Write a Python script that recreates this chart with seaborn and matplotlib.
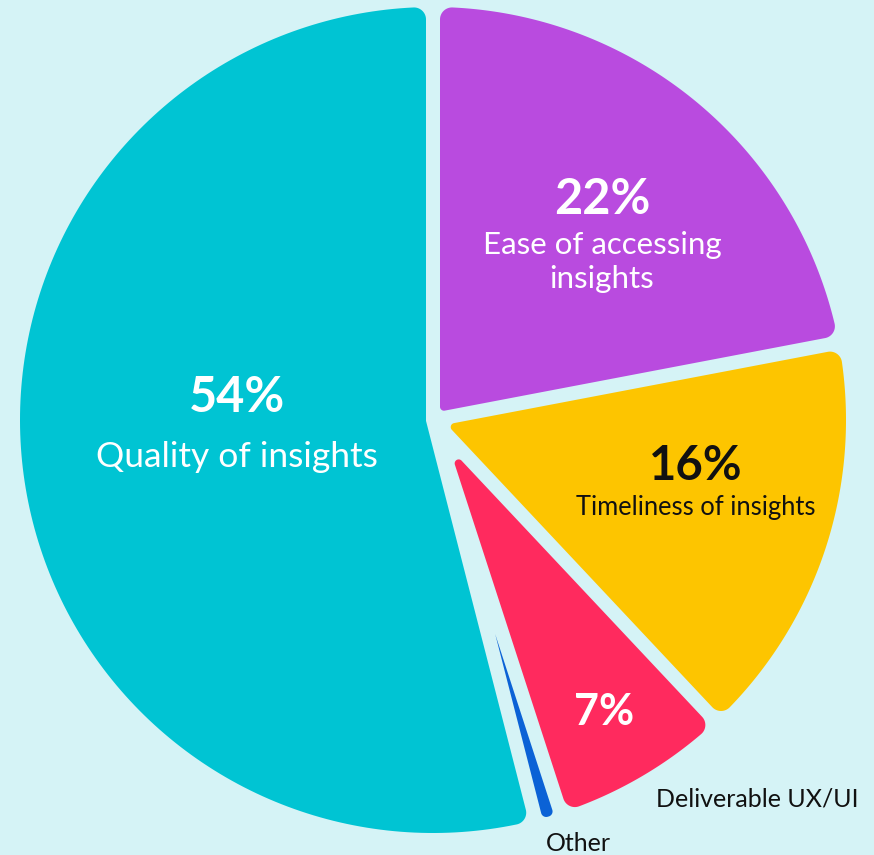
import numpy as np
import matplotlib
matplotlib.use("Agg")
import matplotlib.pyplot as plt
from matplotlib.patches import Polygon
import seaborn as sns

# Data (clockwise from 12 o'clock)
labels = ["Ease of accessing\ninsights", "Timeliness of insights", "Deliverable UX/UI", "Other", "Quality of insights"]
shares = [22, 16, 7, 1, 54]
pct_labels = ["22%", "16%", "7%", "", "54%"]
colors = ["#b94bdf", "#fdc500", "#ff2a5e", "#0b62d6", "#00c4d3"]

bg = "#d5f3f6"
sns.set_theme(style="white")
plt.rcParams["font.family"] = ["Lato", "DejaVu Sans"]

W, H = 874, 855
fig = plt.figure(figsize=(W / 100, H / 100), dpi=100, facecolor=bg)
ax = fig.add_axes([0, 0, 1, 1])

gap = 14          # px between slices
rho = 12          # outer corner rounding, px
rho_tip = 4       # rounding at the centre tip, px
cx, cy = 433, H - 420
R = 413

wedges, _ = ax.pie(shares, colors=colors, startangle=90, counterclock=False,
                   radius=R, center=(cx, cy), frame=True)


def e(a):
    return np.array([np.cos(a), np.sin(a)])


def arc(center, rad, a0, a1, n=30):
    return [center + rad * e(a) for a in np.linspace(a0, a1, n)]


def rounded_slice(w):
    # pie wedge minus half the gap on each side, with filleted corners
    c = np.array(w.center)
    h = gap / 2
    t1, t2 = np.deg2rad(w.theta1), np.deg2rad(w.theta2)
    tm, half = (t1 + t2) / 2, (t2 - t1) / 2
    sh = np.sin(half)
    ro = min(rho, 0.9 * (R * sh - h) / (1 + sh)) if half < np.pi / 2 else rho
    n1, n2 = e(t1 + np.pi / 2), e(t2 - np.pi / 2)
    s = np.sqrt((R - ro) ** 2 - (h + ro) ** 2)
    f1 = c + s * e(t1) + (h + ro) * n1
    f2 = c + s * e(t2) + (h + ro) * n2
    p1 = np.arctan2(*(f1 - c)[::-1])
    p2 = np.arctan2(*(f2 - c)[::-1])
    p1 = p1 + 2 * np.pi * np.round((t1 - p1) / (2 * np.pi))
    p2 = p2 + 2 * np.pi * np.round((t2 - p2) / (2 * np.pi))
    pts = []
    pts += arc(f1, ro, t1 - np.pi / 2, p1)
    pts += arc(c, R, p1, p2, 200)
    pts += arc(f2, ro, p2, t2 + np.pi / 2)
    if half < np.pi / 2:
        ra = rho_tip if sh > 0.2 else 0.0
        a = c + (h + ra) / sh * e(tm)
        pts += arc(a, ra, t2 + np.pi / 2, t1 + 1.5 * np.pi, 20)
    else:
        pts.append(c + h / sh * e(tm))
    return Polygon(np.array(pts), closed=True, facecolor=w.get_facecolor(),
                   edgecolor="none", lw=0)


for w in wedges:
    ax.add_patch(rounded_slice(w))
    w.set_visible(False)

ax.set_xlim(0, W)
ax.set_ylim(0, H)
ax.set_facecolor(bg)
ax.axis("off")

dark = "#111111"
# Quality of insights
ax.text(237, H - 398, pct_labels[4], color="white", fontsize=35, fontweight="bold", ha="center", va="center", zorder=6)
ax.text(237, H - 457, labels[4], color="white", fontsize=25.5, ha="center", va="center", zorder=6)
# Ease of accessing
ax.text(602, H - 199, pct_labels[0], color="white", fontsize=35, fontweight="bold", ha="center", va="center", zorder=6)
ax.text(602, H - 262, labels[0], color="white", fontsize=22.5, ha="center", va="center", linespacing=1.25, zorder=6)
# Timeliness
ax.text(696, H - 466, pct_labels[1], color=dark, fontsize=34, fontweight="bold", ha="center", va="center", zorder=6)
ax.text(696, H - 508, labels[1], color=dark, fontsize=18.4, ha="center", va="center", zorder=6)
# Deliverable
ax.text(604, H - 712, pct_labels[2], color="white", fontsize=31, fontweight="bold", ha="center", va="center", zorder=6)
ax.text(757, H - 799, labels[2], color=dark, fontsize=18, ha="center", va="center", zorder=6)
# Other
ax.text(578, H - 843, labels[3], color=dark, fontsize=18, ha="center", va="center", zorder=6)

fig.savefig("out.png", dpi=100, facecolor=bg)
